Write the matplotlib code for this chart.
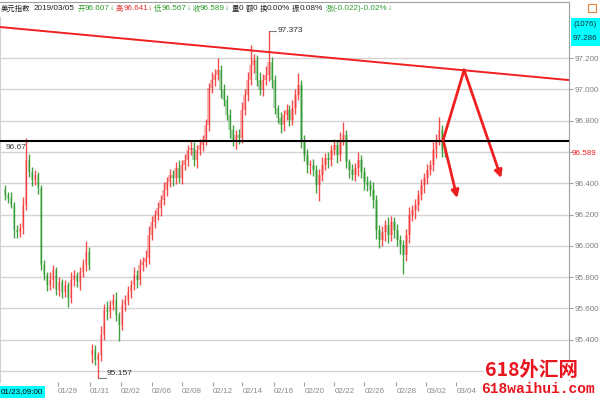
import numpy as np
import matplotlib.pyplot as plt
from matplotlib.patches import Rectangle
from matplotlib.lines import Line2D

plt.rcParams['font.family'] = ['Liberation Sans', 'Noto Sans CJK SC', 'DejaVu Sans']

# 4h candles, US dollar index, 01/23 .. 03/05
closes = [
    96.325, 96.305, 96.261, 96.101, 96.088, 96.114, 96.261, 96.548, 96.471, 96.420,
    96.452, 96.369, 95.877, 95.813, 95.749, 95.781, 95.845, 95.718, 95.769, 95.705,
    95.749, 95.666, 95.781, 95.813, 95.769, 95.833, 95.877, 95.960, 95.877, 95.334,
    95.270, 95.302, 95.430, 95.590, 95.577, 95.622, 95.654, 95.558, 95.494, 95.622,
    95.654, 95.705, 95.749, 95.813, 95.781, 95.877, 95.896, 95.922, 96.069, 96.152,
    96.197, 96.241, 96.293, 96.357, 96.408, 96.452, 96.433, 96.497, 96.433, 96.516,
    96.548, 96.612, 96.625, 96.548, 96.612, 96.644, 96.676, 96.772, 97.008, 97.059,
    97.091, 97.123, 96.996, 96.932, 96.836, 96.740, 96.676, 96.708, 96.689, 96.868,
    96.964, 97.059, 97.155, 97.187, 97.059, 96.996, 97.059, 97.091, 97.174, 97.059,
    96.880, 96.817, 96.772, 96.836, 96.868, 96.804, 96.880, 96.964, 97.027, 96.676,
    96.580, 96.516, 96.516, 96.484, 96.388, 96.452, 96.516, 96.561, 96.548, 96.612,
    96.644, 96.580, 96.676, 96.708, 96.535, 96.484, 96.452, 96.497, 96.548, 96.471,
    96.408, 96.388, 96.357, 96.293, 96.101, 96.037, 96.088, 96.133, 96.069, 96.152,
    96.101, 96.037, 96.005, 95.941, 96.069, 96.197, 96.229, 96.261, 96.325, 96.388,
    96.433, 96.484, 96.516, 96.612, 96.676, 96.740, 96.607, 96.589,
]
first_open = 96.36
gap_opens = {29: 95.30}   # weekend gap

upper_wick = [
    .03, .02, .04, .02, .03, .03, .05, .14, .04, .03,
    .03, .02, .02, .03, .02, .05, .03, .02, .03, .02,
    .03, .02, .05, .03, .02, .03, .04, .07, .03, .04,
    .03, .02, .06, .04, .06, .03, .04, .05, .02, .04,
    .03, .04, .03, .05, .03, .04, .03, .05, .06, .04,
    .03, .04, .03, .05, .03, .04, .03, .04, .05, .03,
    .04, .03, .05, .04, .03, .04, .03, .04, .03, .05,
    .04, .08, .03, .04, .03, .04, .03, .03, .04, .05,
    .04, .05, .13, .04, .03, .05, .04, .06, .199, .03,
    .03, .02, .04, .03, .04, .03, .05, .04, .08, .03,
    .03, .04, .03, .04, .03, .04, .05, .03, .04, .03,
    .04, .03, .05, .08, .03, .02, .04, .03, .05, .03,
    .03, .04, .03, .05, .03, .03, .04, .03, .05, .04,
    .03, .04, .03, .03, .04, .05, .03, .04, .03, .04,
    .03, .04, .03, .05, .04, .08, .03, .034,
]
lower_wick = [
    .03, .03, .02, .05, .04, .03, .04, .03, .03, .04,
    .03, .04, .03, .03, .04, .03, .05, .03, .04, .04,
    .03, .06, .03, .04, .03, .05, .03, .04, .03, .05,
    .03, .113, .04, .03, .05, .04, .03, .04, .10, .03,
    .04, .03, .04, .03, .05, .03, .04, .03, .04, .03,
    .04, .03, .05, .03, .04, .03, .05, .04, .03, .04,
    .03, .04, .03, .04, .05, .03, .04, .03, .04, .03,
    .04, .03, .05, .04, .03, .05, .04, .06, .04, .03,
    .03, .04, .03, .05, .04, .03, .04, .03, .04, .05,
    .04, .03, .05, .04, .03, .04, .03, .04, .03, .05,
    .04, .05, .06, .04, .05, .10, .04, .03, .05, .04,
    .03, .05, .04, .03, .04, .05, .03, .04, .05, .04,
    .05, .04, .04, .05, .06, .05, .04, .06, .05, .04,
    .05, .04, .06, .12, .04, .05, .04, .06, .04, .03,
    .05, .04, .03, .04, .05, .03, .04, .022,
]

tick_pos = [17.7, 28.3, 38.7, 49, 59, 69.3, 79.3, 89.7, 100, 110, 120, 130.7, 140.7, 150.7]
tick_lab = ['01/29', '01/31', '02/02', '02/06', '02/08', '02/12', '02/14',
            '02/16', '02/20', '02/22', '02/26', '02/28', '03/02', '03/04']
price_ticks = [95.2, 95.4, 95.6, 95.8, 96.0, 96.2, 96.4, 96.6, 96.8, 97.0, 97.2]

level = 96.67
trend_x = [-1.67, 188.33]
trend_y = [97.398, 97.059]
arrow_start = (146.3, 96.676)
arrow_peak = (153.3, 97.123)
arrow_end1 = (165.7, 96.433)
arrow_end2 = (151.0, 96.305)

RED = '#f02020'
GREEN = '#138a13'

opens = [first_open] + closes[:-1]
for k, v in gap_opens.items():
    opens[k] = v
opens = np.array(opens)
closes = np.array(closes)
highs = np.maximum(opens, closes) + np.array(upper_wick)
lows = np.minimum(opens, closes) - np.array(lower_wick)
idx = np.arange(len(closes))

fig = plt.figure(figsize=(6, 4), dpi=100)
ax = fig.add_axes([0, 18 / 400, 569 / 600, 365 / 400])
ax.set_xlim(-1.667, 188.33)
ax.set_ylim(95.130, 97.462)

for p in price_ticks:
    ax.axhline(p, color='#d4d4d4', lw=1.0, zorder=0)

up = closes >= opens
for i in idx:
    c = RED if up[i] else GREEN
    lo, hi = min(opens[i], closes[i]), max(opens[i], closes[i])
    ax.add_patch(Rectangle((i - 0.42, lo), 0.84, max(hi - lo, 0.004),
                           facecolor=c, alpha=0.3, lw=0, zorder=2))
    ax.vlines(i, lows[i], highs[i], color=c, lw=1.0, alpha=0.8, zorder=3)

# horizontal level and trend line
ax.axhline(level, color='black', lw=1.5, zorder=4)
ax.text(0.3, level - 0.02, '96.67', fontsize=6, color='#404040', va='top', ha='left')
ax.plot(trend_x, trend_y, color=RED, lw=1.4, zorder=4)

# arrows
ax.plot([arrow_start[0], arrow_peak[0]], [arrow_start[1], arrow_peak[1]], color=RED, lw=2, zorder=5)
ax.annotate('', xy=arrow_end1, xytext=arrow_peak,
            arrowprops=dict(arrowstyle='-|>', color=RED, lw=2, mutation_scale=11, shrinkA=0, shrinkB=0))
ax.annotate('', xy=arrow_end2, xytext=arrow_start,
            arrowprops=dict(arrowstyle='-|>', color=RED, lw=2, mutation_scale=11, shrinkA=0, shrinkB=0))

# max / min markers
imax = int(np.argmax(highs))
imin = int(np.argmin(lows))
ax.plot([imax, imax + 2.6], [highs[imax], highs[imax]], color='#808080', lw=0.8)
ax.text(imax + 3, highs[imax], f'{highs[imax]:.3f}', fontsize=6, va='center', color='#303030')
ax.plot([imin, imin + 2.6], [lows[imin], lows[imin]], color='#808080', lw=0.8)
ax.text(imin + 3, lows[imin] + 0.03, f'{lows[imin]:.3f}', fontsize=6, va='center', color='#303030')

# axes styling
for s in ['top', 'bottom']:
    ax.spines[s].set_visible(False)
ax.spines['left'].set_color('#d0d0d0')
ax.spines['right'].set_color('#a0a0a0')
ax.yaxis.tick_right()
ax.set_yticks(price_ticks)
ax.set_yticklabels(['' if abs(p - 96.6) < 1e-6 or p < 95.3 else f'{p:.3f}' for p in price_ticks])
ax.tick_params(axis='y', length=3, color='#a0a0a0', labelsize=5.8, labelcolor='#808080', pad=1)
ax.text(1.005, 96.589, '96.589', transform=ax.get_yaxis_transform(), fontsize=5.8,
        color=RED, va='center', ha='left')
ax.set_xticks(tick_pos)
ax.set_xticklabels(tick_lab)
ax.tick_params(axis='x', length=3, color='#a0a0a0', labelsize=5.8, labelcolor='#8a8a8a', pad=1)
for t in ax.get_xticklabels():
    t.set_ha('left')

# top frame line and right panel
fig.add_artist(Line2D([0, 569 / 600], [1 - 2 / 400, 1 - 2 / 400], color='#a0a0a0', lw=0.8))
fig.add_artist(Line2D([569 / 600, 569 / 600], [1 - 2 / 400, 1 - 17 / 400], color='#a0a0a0', lw=0.8))
fig.add_artist(Rectangle((588 / 600, 1 - 12 / 400), 8 / 600, 8 / 400, fill=False,
                         edgecolor='#f08040', lw=0.8))
fig.add_artist(Rectangle((571 / 600, 1 - 46 / 400), 29 / 600, 28 / 400,
                         facecolor='#00ffff', edgecolor='none'))
fig.text(585 / 600, 1 - 25 / 400, '(1076)', fontsize=5.8, ha='center', va='center', color='#203040')
fig.text(585 / 600, 1 - 38 / 400, '97.286', fontsize=5.8, ha='center', va='center', color='#203040')

# first date label
fig.text(1 / 600, 8 / 400, '01/23,09:00', fontsize=5.8, ha='left', va='center', color='black',
         bbox=dict(facecolor='#00ffff', edgecolor='none', pad=1.5))

# header line
G, R, K = '#2e9b2e', '#e03030', '#202020'
header = [('美元指数', K, 3), ('2019/03/05', K, 3),
          ('开', G, 0), ('96.607', G, 0), ('↓', G, 2),
          ('高', R, 0), ('96.641', R, 0), ('↓', R, 2),
          ('低', G, 0), ('96.567', G, 0), ('↓', G, 2),
          ('收', G, 0), ('96.589', G, 0), ('↓', G, 2),
          ('量', K, 0), ('0', K, 2), ('额', K, 0), ('0', K, 2),
          ('换', K, 0), ('0.00%', K, 2), ('振', K, 0), ('0.08%', K, 3),
          ('涨', G, 0), ('(-0.022)-0.02%', G, 0), ('↓', G, 0)]
fig.canvas.draw()
rend = fig.canvas.get_renderer()
x = 1
for s, c, gap in header:
    cjk = any(ord(ch) > 0x3000 for ch in s)
    t = fig.text(x / 600, 1 - 9 / 400, s, color=c, fontsize=5.3 if cjk else 5.9,
                 ha='left', va='center')
    x = t.get_window_extent(rend).x1 + gap

# watermark
fig.text(531 / 600, 1 - 370 / 400, '618外汇网', fontsize=14, color='#e8141e', weight='bold',
         ha='center', va='center', family=['Noto Sans CJK SC', 'DejaVu Sans'],
         bbox=dict(facecolor='white', edgecolor='none', pad=0.5))
fig.text(538 / 600, 1 - 389 / 400, '618waihui.com', fontsize=10.5, color='#e8141e', weight='bold',
         ha='center', va='center', family=['Liberation Mono', 'DejaVu Sans Mono'],
         bbox=dict(facecolor='white', edgecolor='none', pad=0.5))

fig.savefig('out.png', dpi=100)
